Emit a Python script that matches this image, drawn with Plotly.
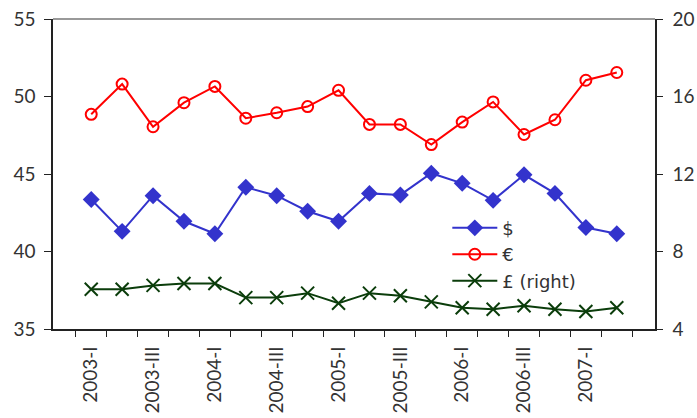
import plotly.graph_objects as go

quarters = ["2003-I", "2003-II", "2003-III", "2003-IV",
            "2004-I", "2004-II", "2004-III", "2004-IV",
            "2005-I", "2005-II", "2005-III", "2005-IV",
            "2006-I", "2006-II", "2006-III", "2006-IV",
            "2007-I", "2007-II"]
tick_labels = ["2003-I", "", "2003-III", "", "2004-I", "", "2004-III", "",
               "2005-I", "", "2005-III", "", "2006-I", "", "2006-III", "",
               "2007-I", ""]

usd = [43.35, 41.3, 43.6, 41.95, 41.15, 44.15, 43.6, 42.6, 41.95,
       43.75, 43.65, 45.05, 44.4, 43.3, 44.95, 43.75, 41.55, 41.15]
eur = [48.85, 50.8, 48.05, 49.6, 50.65, 48.6, 48.95, 49.35, 50.4,
       48.2, 48.2, 46.9, 48.35, 49.65, 47.55, 48.5, 51.05, 51.55]
gbp = [6.05, 6.05, 6.25, 6.35, 6.35, 5.62, 5.62, 5.85, 5.33,
       5.85, 5.72, 5.4, 5.1, 5.02, 5.2, 5.02, 4.9, 5.1]

font_family = "Lato, 'DejaVu Sans', sans-serif"

fig = go.Figure()
fig.add_trace(go.Scatter(x=quarters, y=usd, name="$", mode="lines+markers",
                         line=dict(color="#3333CC", width=2),
                         marker=dict(symbol="diamond", size=13, color="#3333CC")))
fig.add_trace(go.Scatter(x=quarters, y=eur, name="€", mode="lines+markers",
                         line=dict(color="#FF0000", width=2),
                         marker=dict(symbol="circle-open", size=11, color="#FF0000",
                                     line=dict(width=2, color="#FF0000"))))
fig.add_trace(go.Scatter(x=quarters, y=gbp, name="£ (right)", mode="lines+markers",
                         yaxis="y2",
                         line=dict(color="#0B3D0B", width=2),
                         marker=dict(symbol="x-thin-open", size=13, color="#0B3D0B",
                                     line=dict(width=2, color="#0B3D0B"))))

# top frame line
fig.add_shape(type="line", xref="paper", yref="paper", x0=0, x1=1, y0=1, y1=1,
              line=dict(color="#999999", width=2))

fig.update_layout(
    width=697, height=418,
    margin=dict(l=53, r=42, t=19, b=89, autoexpand=False),
    paper_bgcolor="white", plot_bgcolor="white",
    font=dict(family=font_family, color="#333333"),
    showlegend=True,
    legend=dict(x=0.655, y=0.385, xanchor="left", yanchor="top",
                bgcolor="rgba(0,0,0,0)",
                font=dict(size=18, family="'DejaVu Sans', sans-serif"),
                tracegroupgap=0, itemwidth=45),
    xaxis=dict(type="category", categoryorder="array", categoryarray=quarters,
               tickmode="array", tickvals=quarters, ticktext=tick_labels,
               tickson="boundaries", ticks="outside", ticklen=6,
               tickcolor="#222222", tickangle=-90, automargin=False,
               ticklabelstandoff=8,
               showline=True, linecolor="#222222", linewidth=1.5,
               showgrid=False, tickfont=dict(size=19)),
    yaxis=dict(range=[35, 55], tickvals=[35, 40, 45, 50, 55], automargin=False,
               ticks="outside", ticklen=7, tickcolor="#222222",
               ticklabelstandoff=5,
               showline=True, linecolor="#222222", linewidth=1.5,
               showgrid=False, zeroline=False, tickfont=dict(size=19)),
    yaxis2=dict(range=[4, 20], tickvals=[4, 8, 12, 16, 20], overlaying="y",
                side="right", ticks="outside", ticklen=6, tickcolor="#222222",
                automargin=False, ticklabelstandoff=6,
                showline=True, linecolor="#222222", linewidth=1.5,
                showgrid=False, zeroline=False, tickfont=dict(size=19)),
)

fig.write_html("out.html",
               config={"displayModeBar": False},
               post_script="document.body.style.margin='0';document.body.style.padding='0';")
